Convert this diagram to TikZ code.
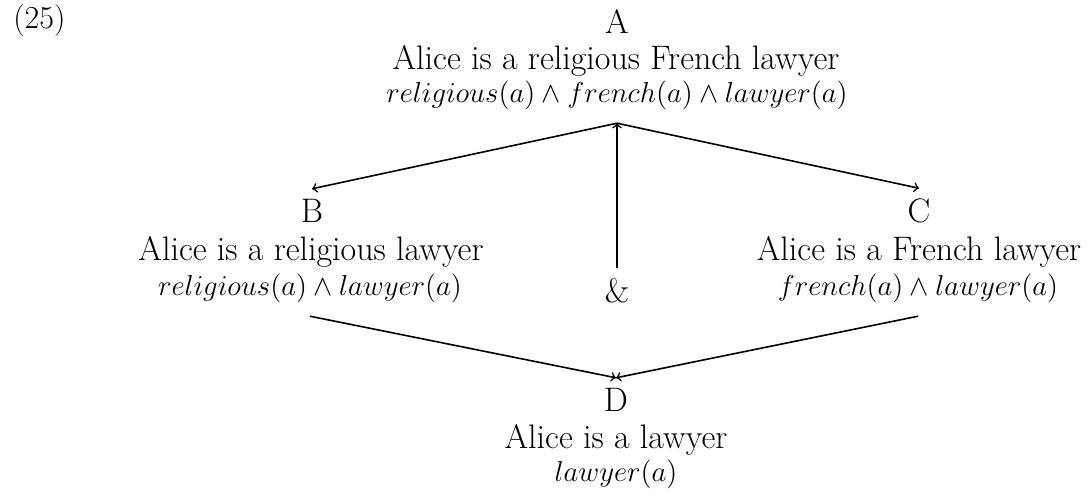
\documentclass[tikz,border=0pt]{standalone}
\tikzset{
  ln/.style={anchor=base,inner sep=0pt,font=\fontsize{17}{18}\selectfont},
  lab/.style={ln,outer sep=5pt},
  txt/.style={ln,outer sep=3pt},
  frm/.style={ln,outer sep=7pt,font=\fontsize{15.5}{18}\selectfont},
  arr/.style={->,line width=0.8pt},
}
\begin{document}
\begin{tikzpicture}[x=0.5pt,y=-0.5pt]
\path[use as bounding box] (0,0) rectangle (1091,495);
\node[anchor=base west,inner sep=0pt] (num) at (13,28) {\fontsize{16}{18}\selectfont (25)};
% A
\node[lab] (A)  at (617,33)  {A};
\node[txt] (At) at (616,69)  {Alice is a religious French lawyer};
\node[frm] (Af) at (617,102) {$religious(a)\wedge french(a)\wedge lawyer(a)$};
% B
\node[lab] (B)  at (312,222) {B};
\node[txt] (Bt) at (311,260) {Alice is a religious lawyer};
\node[frm] (Bf) at (310,295) {$religious(a)\wedge lawyer(a)$};
% C
\node[lab] (C)  at (919,222) {C};
\node[txt] (Ct) at (919,260) {Alice is a French lawyer};
\node[frm] (Cf) at (918,295) {$french(a)\wedge lawyer(a)$};
% &
\node[lab] (amp) at (617,302) {\&};
% D
\node[lab] (D)  at (616,411) {D};
\node[txt] (Dt) at (616,448) {Alice is a lawyer};
\node[frm] (Df) at (616,481) {$lawyer(a)$};
% connectors
\draw[arr] (Af.south) -- (B.north);
\draw[arr] (Af.south) -- (C.north);
\draw[arr] (amp.north) -- (Af.south);
\draw[arr] (Bf.south) -- (D.north);
\draw[arr] (Cf.south) -- (D.north);
\end{tikzpicture}
\end{document}
